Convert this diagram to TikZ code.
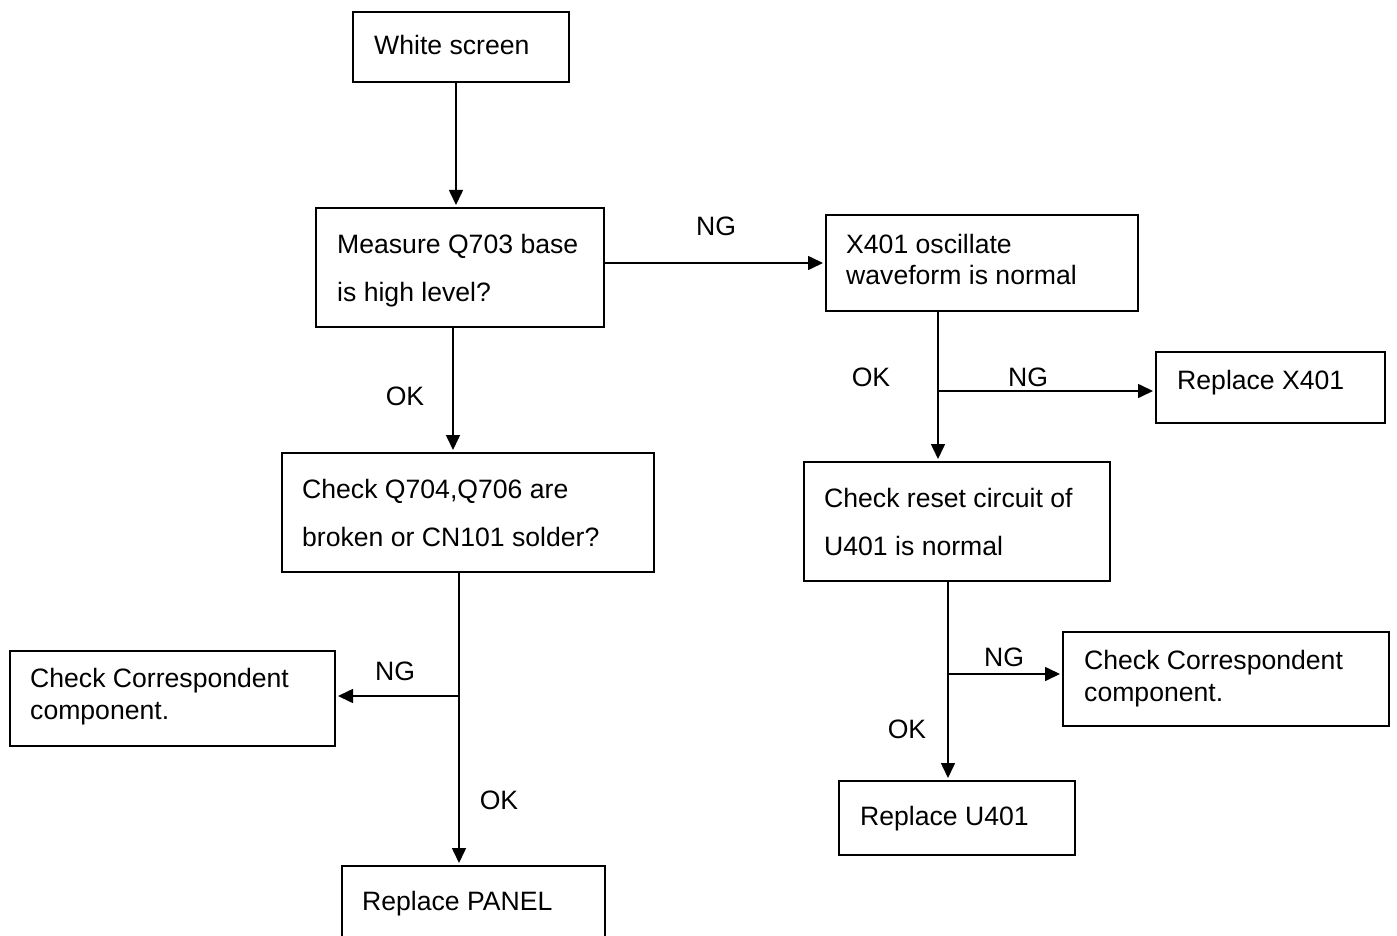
\documentclass[tikz,border=0pt]{standalone}
\usepackage{fontspec}
\setmainfont{Liberation Sans}
\usetikzlibrary{arrows.meta}
\begin{document}
\begin{tikzpicture}[x=1pt,y=-1pt,
  box/.style={draw,line width=1.6pt,inner sep=0pt,outer sep=0pt,anchor=north west},
  txt/.style={anchor=base west,inner sep=0pt,font=\fontsize{26.6}{32}\selectfont},
  lbl/.style={anchor=base,inner sep=0pt,font=\fontsize{26.6}{32}\selectfont},
  line/.style={line width=1.6pt},
  arr/.style={line width=1.6pt,-{Triangle[length=15pt,width=14pt]},shorten >=3pt}]
\useasboundingbox (0,0) rectangle (1397,936);
\clip (0,0) rectangle (1397,936);
% boxes
\node[box,minimum width=216pt,minimum height=70pt] (ws) at (353,12) {};
\node[box,minimum width=288pt,minimum height=119pt] (ms) at (316,208) {};
\node[box,minimum width=312pt,minimum height=96pt] (xo) at (826,215) {};
\node[box,minimum width=229pt,minimum height=71pt] (rx) at (1156,352) {};
\node[box,minimum width=372pt,minimum height=119pt] (cq) at (282,453) {};
\node[box,minimum width=306pt,minimum height=119pt] (cr) at (804,462) {};
\node[box,minimum width=325pt,minimum height=95pt] (cl) at (10,651) {};
\node[box,minimum width=326pt,minimum height=94pt] (cc) at (1063,632) {};
\node[box,minimum width=236pt,minimum height=74pt] (ru) at (839,781) {};
\node[box,minimum width=263pt,minimum height=100pt] (rp) at (342,866) {};
% texts
\node[txt] (t1) at (374,55) {White screen};
\node[txt] (t2) at (337,253) {Measure Q703 base};
\node[txt] (t3) at (337,301) {is high level?};
\node[txt] (t4) at (846,253) {X401 oscillate};
\node[txt] (t5) at (846,284) {waveform is normal};
\node[txt] (t6) at (1177,389) {Replace X401};
\node[txt] (t7) at (302,498) {Check Q704,Q706 are};
\node[txt] (t8) at (302,546) {broken or CN101 solder?};
\node[txt] (t9) at (824,507) {Check reset circuit of};
\node[txt] (t10) at (824,555) {U401 is normal};
\node[txt] (t11) at (30,687) {Check Correspondent};
\node[txt] (t12) at (30,719) {component.};
\node[txt] (t13) at (1084,669) {Check Correspondent};
\node[txt] (t14) at (1084,701) {component.};
\node[txt] (t15) at (860,825) {Replace U401};
\node[txt] (t16) at (362,910) {Replace PANEL};
% labels
\node[lbl] (l1) at (716,235) {NG};
\node[lbl] (l2) at (405,405) {OK};
\node[lbl] (l3) at (871,386) {OK};
\node[lbl] (l4) at (1028,386) {NG};
\node[lbl] (l5) at (395,680) {NG};
\node[lbl] (l6) at (499,809) {OK};
\node[lbl] (l7) at (1004,666) {NG};
\node[lbl] (l8) at (907,738) {OK};
% connector guides
\coordinate (xa) at (456,0);
\coordinate (xb) at (453,0);
\coordinate (xc) at (459,0);
\coordinate (xd) at (938,0);
\coordinate (xe) at (948,0);
\coordinate (ya) at (0,263);
\coordinate (jb) at (459,696);
\coordinate (jx) at (938,391);
\coordinate (ju) at (948,674);
% connectors
\draw[arr] (ws.south -| xa) -- (ms.north -| xa);
\draw[arr] (ms.east |- ya) -- (xo.west |- ya);
\draw[arr] (ms.south -| xb) -- (cq.north -| xb);
\draw[arr] (xo.south -| xd) -- (cr.north -| xd);
\draw[arr] (jx) -- (rx.west |- jx);
\draw[arr] (cq.south -| xc) -- (rp.north -| xc);
\draw[arr] (jb) -- (cl.east |- jb);
\draw[arr] (cr.south -| xe) -- (ru.north -| xe);
\draw[arr] (ju) -- (cc.west |- ju);
\end{tikzpicture}
\end{document}
